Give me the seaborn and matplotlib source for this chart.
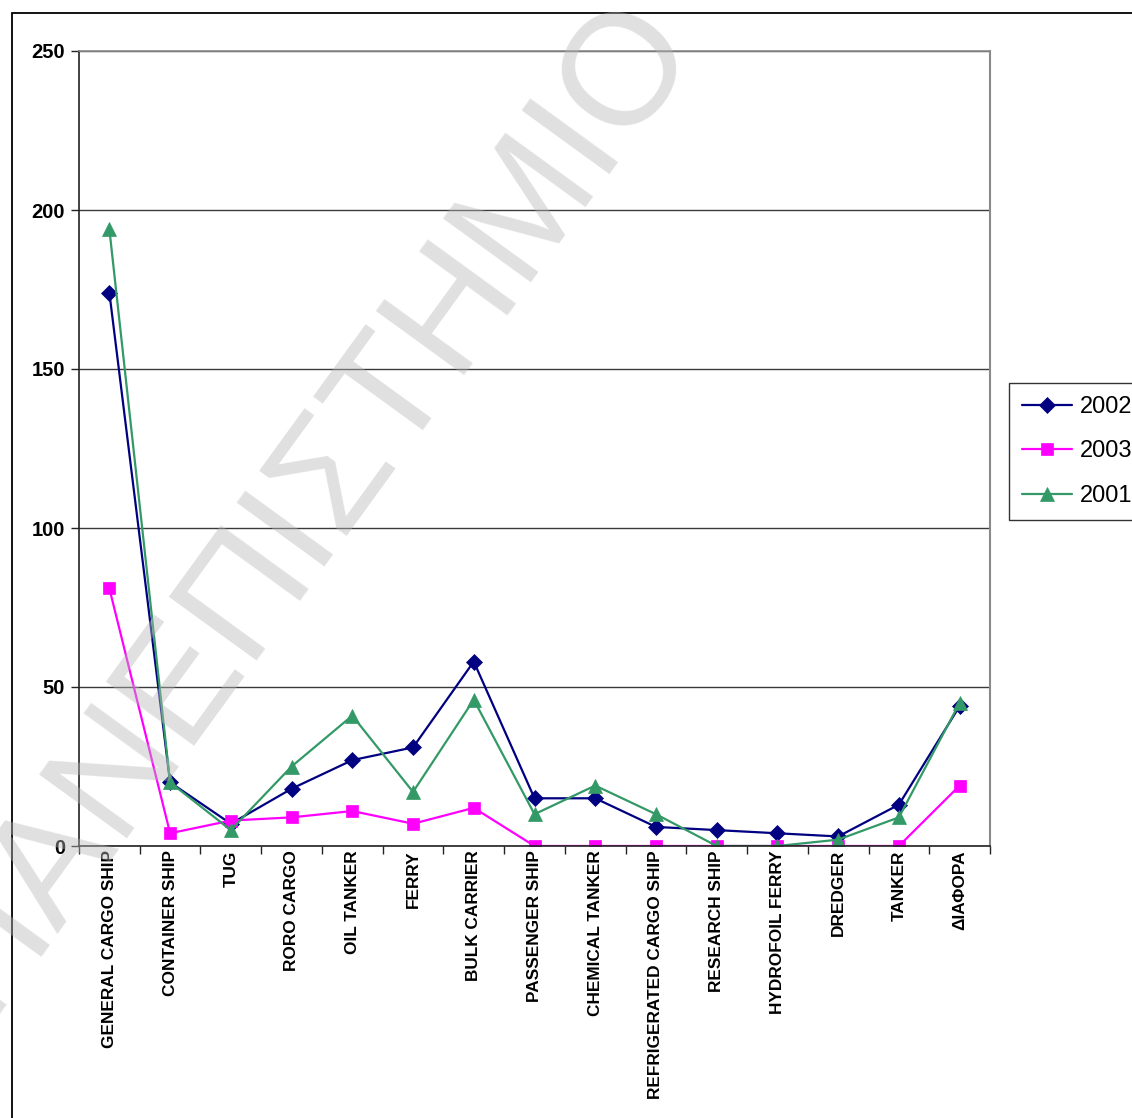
import matplotlib
matplotlib.use("Agg")
import matplotlib.pyplot as plt
from matplotlib.patches import Rectangle
import seaborn as sns
import pandas as pd

# Ship categories along the x axis
categories = [
    "GENERAL CARGO SHIP", "CONTAINER SHIP", "TUG", "RORO CARGO", "OIL TANKER",
    "FERRY", "BULK CARRIER", "PASSENGER SHIP", "CHEMICAL TANKER",
    "REFRIGERATED CARGO SHIP", "RESEARCH SHIP", "HYDROFOIL FERRY", "DREDGER",
    "TANKER", "ΔΙΑΦΟΡΑ",
]

# Counts per year
values_2002 = [174, 20, 7, 18, 27, 31, 58, 15, 15, 6, 5, 4, 3, 13, 44]
values_2003 = [81, 4, 8, 9, 11, 7, 12, 0, 0, 0, 0, 0, 0, 0, 19]
values_2001 = [194, 20, 5, 25, 41, 17, 46, 10, 19, 10, 0, 0, 2, 9, 45]

series_names = ["2002", "2003", "2001"]
y_ticks = [0, 50, 100, 150, 200, 250]

df = pd.DataFrame({
    "category": categories * 3,
    "year": [n for n in series_names for _ in categories],
    "count": values_2002 + values_2003 + values_2001,
})

colors = {"2002": "#000080", "2003": "#ff00ff", "2001": "#339966"}
markers = {"2002": "D", "2003": "s", "2001": "^"}
msizes = {"2002": 8, "2003": 8, "2001": 9.5}

sns.set_style("white")
plt.rcParams["font.family"] = ["Liberation Sans", "DejaVu Sans"]
plt.rcParams["text.color"] = "black"
plt.rcParams["xtick.color"] = "black"
plt.rcParams["ytick.color"] = "black"
plt.rcParams["axes.labelcolor"] = "black"

W, H = 1132, 1118
fig = plt.figure(figsize=(W / 100, H / 100), dpi=100)
ax = fig.add_axes([79 / W, 1 - 846 / H, 911 / W, 795 / H])

for name in series_names:
    sub = df[df["year"] == name]
    sns.lineplot(
        data=sub, x="category", y="count", ax=ax, sort=False,
        color=colors[name], marker=markers[name], markersize=msizes[name],
        markeredgecolor=colors[name], markeredgewidth=0.5,
        linewidth=1.6, label=name,
    )

ax.set_xlim(-0.5, len(categories) - 0.5)
ax.set_ylim(0, 250)
ax.set_xlabel("")
ax.set_ylabel("")

# y axis
ax.set_yticks(y_ticks)
ax.set_yticklabels([str(t) for t in y_ticks], fontsize=14.5, fontweight="bold",
                   color="black")
ax.tick_params(axis="y", direction="out", length=6, width=1, color="#222222",
               pad=4, left=True)
ax.grid(axis="y", color="#3a3a3a", linewidth=1)
ax.set_axisbelow(True)

# x axis: labels at category centres, tick marks between categories
ax.set_xticks(range(len(categories)))
ax.set_xticklabels(categories, rotation=90, fontsize=12.4, fontweight="bold",
                   va="top", ha="center", color="black")
ax.tick_params(axis="x", which="major", length=0, pad=3)
ax.set_xticks([i - 0.5 for i in range(len(categories) + 1)], minor=True)
ax.tick_params(axis="x", which="minor", direction="out", length=6, width=1,
               color="#222222", bottom=True)

for side in ["left", "bottom"]:
    ax.spines[side].set_color("#222222")
    ax.spines[side].set_linewidth(1.2)
ax.spines["right"].set_color("#8a8a8a")
ax.spines["right"].set_linewidth(1.5)
ax.spines["top"].set_color("#8a8a8a")
ax.spines["top"].set_linewidth(1.2)

leg = ax.legend(
    loc="upper left", bbox_to_anchor=(1009 / W, 1 - 383 / H),
    bbox_transform=fig.transFigure, frameon=True, fancybox=False,
    fontsize=17, handlelength=2.1, handletextpad=0.35, borderpad=0.55,
    labelspacing=0.95, borderaxespad=0,
)
leg.get_frame().set_edgecolor("black")
leg.get_frame().set_linewidth(1.0)
for t in leg.get_texts():
    t.set_color("black")

# chart border
fig.patches.append(Rectangle((12 / W, -0.1), 1.2, 1 - 13 / H + 0.1,
                             transform=fig.transFigure, fill=False,
                             edgecolor="black", linewidth=1.3))

# watermark
fig.text(695 / W, 1 - 40 / H, "ΠΑΝΕΠΙΣΤΗΜΙΟ", fontsize=114,
         family=["Liberation Sans", "DejaVu Sans"], rotation=54,
         rotation_mode="anchor", ha="right", va="baseline",
         color=(0.72, 0.72, 0.72), alpha=0.43, zorder=10)

fig.savefig("out.png", dpi=100)
